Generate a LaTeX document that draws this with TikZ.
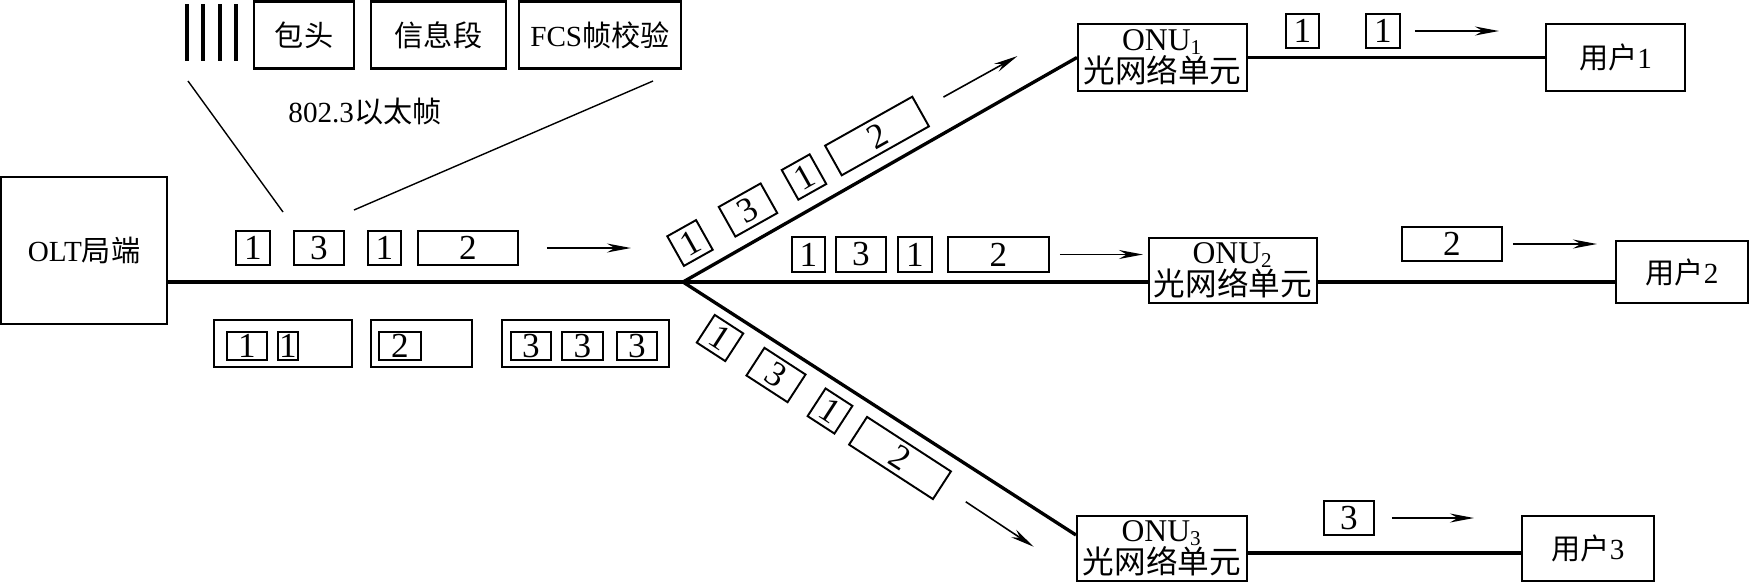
\documentclass[tikz,border=0pt]{standalone}
\usepackage{fontspec}
\setmainfont{Liberation Serif}
\newfontfamily\cjkfont{Noto Sans CJK SC}
\newcommand{\zh}[1]{{\cjkfont #1}}
\usepackage{tikz}
\usetikzlibrary{arrows.meta, positioning, calc}

\begin{document}
\begin{tikzpicture}[
    x=0.1mm, y=-0.1mm,
    every node/.style={font=\fontsize{8.3}{8.9}\selectfont, inner sep=0pt},
    unit/.style={rectangle, draw, line width=0.6pt, align=center},
    onu/.style={unit, font=\fontsize{9}{9.2}\selectfont},
    field/.style={rectangle, draw, line width=0.6pt, minimum height=6.7mm},
    pkt/.style={rectangle, draw, line width=0.55pt, minimum height=3.4mm, font=\fontsize{10}{12}\selectfont},
    bin/.style={rectangle, draw, line width=0.55pt, minimum height=4.7mm},
    slot/.style={rectangle, draw, line width=0.5pt, minimum height=2.8mm, font=\fontsize{10}{12}\selectfont},
    fiber/.style={line width=0.95pt},
    lead/.style={line width=0.4pt},
    flow/.style={-{Stealth[length=2.4mm, width=0.9mm]}, line width=0.45pt}
]
\useasboundingbox (0,0) rectangle (1750,582);

\foreach \bx in {187,203,220,236}
    \draw[line width=1.05pt] (\bx,4) -- (\bx,61);
\node[field, minimum width=10mm] (hdr) at (304,35) {\zh{包头}};
\node[field, minimum width=13.5mm] (info) at (438.5,35) {\zh{信息段}};
\node[field, minimum width=16.2mm] (fcs) at (600,35) {FCS\zh{帧校验}};
\node (frame) at (365,112) {802.3\zh{以太帧}};

\node[unit, minimum width=16.6mm, minimum height=14.7mm] (olt) at (84,250.5) {OLT\zh{局端}};
\coordinate (split) at (683,282);

\node[pkt, minimum width=3.4mm] (a1) at (253,248) {1};
\node[pkt, minimum width=5.0mm] (a3) at (319,248) {3};
\node[pkt, minimum width=3.3mm] (a1b) at (384.5,248) {1};
\node[pkt, minimum width=10.0mm] (a2) at (468,248) {2};

\node[bin, minimum width=13.8mm] (g1) at (283,343.5) {};
\node[slot, minimum width=4.0mm] (g1a) at (247,346) {1};
\node[slot, minimum width=2.0mm] (g1b) at (288,346) {1};
\node[bin, minimum width=10.1mm] (g2) at (421.5,343.5) {};
\node[slot, minimum width=4.2mm] (g2a) at (400,346) {2};
\node[bin, minimum width=16.7mm] (g3) at (585.5,343.5) {};
\node[slot, minimum width=4.0mm] (g3a) at (531,346) {3};
\node[slot, minimum width=4.1mm] (g3b) at (582.5,346) {3};
\node[slot, minimum width=4.0mm] (g3c) at (637,346) {3};

\node[onu, minimum width=16.9mm, minimum height=6.7mm] (onu1) at (1162.5,57.5) {ONU\textsubscript{1}\\\zh{光网络单元}};
\node[onu, minimum width=16.8mm, minimum height=6.5mm] (onu2) at (1233,270.5) {ONU\textsubscript{2}\\\zh{光网络单元}};
\node[onu, minimum width=17.0mm, minimum height=6.5mm] (onu3) at (1162,548.5) {ONU\textsubscript{3}\\\zh{光网络单元}};
\node[unit, minimum width=13.9mm, minimum height=6.7mm] (user1) at (1615.5,57.5) {\zh{用户}1};
\node[unit, minimum width=13.2mm, minimum height=6.2mm] (user2) at (1682,272) {\zh{用户}2};
\node[unit, minimum width=13.2mm, minimum height=6.5mm] (user3) at (1588,548.5) {\zh{用户}3};

\node[pkt, rotate=29.3, minimum width=3.3mm] (u1) at (690,243) {1};
\node[pkt, rotate=29.3, minimum width=4.8mm] (u3) at (748,210) {3};
\node[pkt, rotate=29.3, minimum width=3.2mm] (u1b) at (804,177) {1};
\node[pkt, rotate=29.3, minimum width=10.0mm] (u2) at (877,136) {2};

\node[pkt, minimum width=3.3mm, minimum height=3.5mm] (m1) at (808.5,254.5) {1};
\node[pkt, minimum width=5.0mm, minimum height=3.5mm] (m3) at (861,254.5) {3};
\node[pkt, minimum width=3.4mm, minimum height=3.5mm] (m1b) at (915,254.5) {1};
\node[pkt, minimum width=10.1mm, minimum height=3.5mm] (m2) at (998.5,254.5) {2};

\node[pkt, rotate=-33, minimum width=3.4mm, minimum height=3.3mm] (l1) at (720,338) {1};
\node[pkt, rotate=-33, minimum width=4.9mm, minimum height=3.3mm] (l3) at (776,375) {3};
\node[pkt, rotate=-33, minimum width=3.2mm, minimum height=3.3mm] (l1b) at (830,411) {1};
\node[pkt, rotate=-33, minimum width=10.0mm, minimum height=3.3mm] (l2) at (900,458) {2};

\node[pkt, minimum width=3.3mm] (b1) at (1302.5,31) {1};
\node[pkt, minimum width=3.4mm] (b1b) at (1383,31) {1};
\node[pkt, minimum width=10.0mm] (b2) at (1452,244) {2};
\node[pkt, minimum width=5.0mm] (b3) at (1349,518) {3};

\draw[lead] (188,81) -- (283,212);
\draw[lead] (653,81) -- (354,210);

\draw[fiber] (olt.east |- split) -- (split);
\draw[fiber] (split) -- (onu1.west);
\draw[fiber] (split) -- (split -| onu2.west);
\draw[fiber] (split) -- ([yshift=1.35mm]onu3.west);
\draw[fiber] (onu1.east) -- (user1.west);
\draw[fiber] (split -| onu2.east) -- (split -| user2.west);
\draw[fiber] ([yshift=-0.45mm]onu3.east) -- ([yshift=-0.45mm]user3.west);

\draw[flow] ([xshift=2.8mm]a2.east) -- ++(84,0);
\draw[flow] ([shift={(22,-14)}]u2.east) -- ++(74,-41);
\draw[flow] ([xshift=1mm]m2.east) -- ++(83,0);
\draw[flow] ([shift={(23,16)}]l2.east) -- ++(68,45);
\draw[flow] ([xshift=1.4mm]b1b.east) -- ++(84,0);
\draw[flow] ([xshift=1mm]b2.east) -- ++(84,0);
\draw[flow] ([xshift=1.7mm]b3.east) -- ++(82,0);

\end{tikzpicture}
\end{document}
